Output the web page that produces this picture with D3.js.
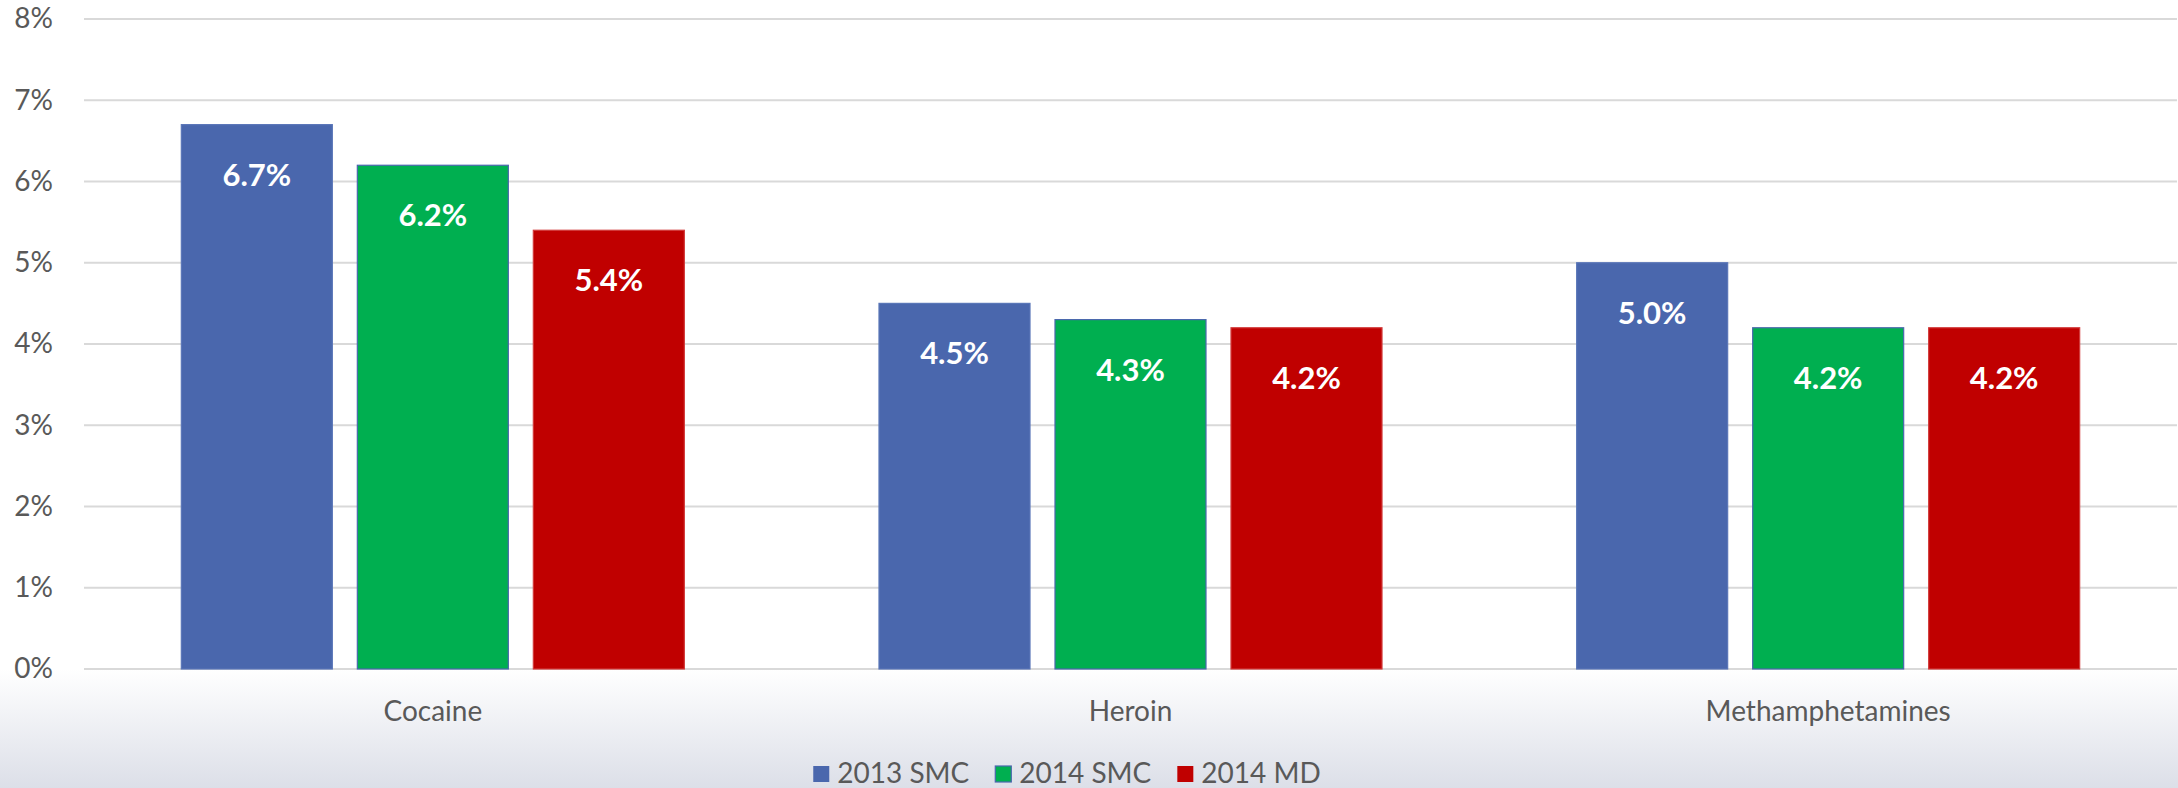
<!DOCTYPE html>
<html>
<head>
<meta charset="utf-8">
<script src="https://cdn.jsdelivr.net/npm/d3@7"></script>
<style>
  html, body { margin: 0; padding: 0; background: #fff; }
  svg { display: block; font-family: Lato, "Open Sans", sans-serif; }
</style>
</head>
<body>
<div id="chart"></div>
<script>
const categories = ["Cocaine", "Heroin", "Methamphetamines"];
const seriesNames = ["2013 SMC", "2014 SMC", "2014 MD"];
const smc2013 = [6.7, 4.5, 5.0];
const smc2014 = [6.2, 4.3, 4.2];
const md2014 = [5.4, 4.2, 4.2];
const yTicks = [0, 1, 2, 3, 4, 5, 6, 7, 8];

const colors = { "2013 SMC": "#4a67ad", "2014 SMC": "#00af50", "2014 MD": "#c00000" };
const strokes = { "2013 SMC": "#5a76b8", "2014 SMC": "#4a67ad", "2014 MD": "#d23a3a" };

const w = 2178;
const h = 788;
const plotLeft = 84;
const plotRight = 2177;
const plotTop = 19;
const plotBottom = 669;

const series = [
  { name: seriesNames[0], values: smc2013 },
  { name: seriesNames[1], values: smc2014 },
  { name: seriesNames[2], values: md2014 },
];

const svg = d3
  .select("#chart")
  .append("svg")
  .attr("width", w)
  .attr("height", h);

// soft grey fade at the bottom
const defs = svg.append("defs");
const grad = defs
  .append("linearGradient")
  .attr("id", "bg")
  .attr("x1", 0).attr("y1", 0).attr("x2", 0).attr("y2", 1);
grad.append("stop").attr("offset", "0%").attr("stop-color", "#ffffff");
grad.append("stop").attr("offset", "100%").attr("stop-color", "#dcdfe8");
svg
  .append("rect")
  .attr("x", 0)
  .attr("y", plotBottom)
  .attr("width", w)
  .attr("height", h - plotBottom)
  .attr("fill", "url(#bg)");

const yScale = d3.scaleLinear().domain([0, 8]).range([plotBottom, plotTop]);
const xScale = d3
  .scaleBand()
  .domain(categories)
  .range([plotLeft, plotRight])
  .paddingInner(0.279)
  .paddingOuter(0.1395);
const xInner = d3
  .scaleBand()
  .domain(seriesNames)
  .range([0, xScale.bandwidth()])
  .paddingInner(0.142)
  .paddingOuter(0);

// gridlines
svg
  .append("g")
  .selectAll("line")
  .data(yTicks)
  .enter()
  .append("line")
  .attr("x1", plotLeft)
  .attr("x2", plotRight)
  .attr("y1", (d) => yScale(d))
  .attr("y2", (d) => yScale(d))
  .attr("stroke", "#d9d9d9")
  .attr("stroke-width", 2);

// y axis labels
const yAxis = d3
  .axisLeft(yScale)
  .tickValues(yTicks)
  .tickFormat((d) => d + "%")
  .tickSize(0)
  .tickPadding(0);
const yG = svg
  .append("g")
  .attr("id", "y-axis")
  .attr("transform", "translate(53,0)")
  .call(yAxis);
yG.select(".domain").remove();
yG.selectAll("text")
  .attr("font-size", 28)
  .attr("font-family", "Lato, sans-serif")
  .attr("fill", "#595959");

// bars
const groups = svg
  .append("g")
  .selectAll("g")
  .data(series)
  .enter()
  .append("g");

groups
  .selectAll("rect")
  .data((s) => s.values.map((v, i) => ({ name: s.name, cat: categories[i], v: v })))
  .enter()
  .append("rect")
  .attr("x", (d) => xScale(d.cat) + xInner(d.name))
  .attr("y", (d) => yScale(d.v))
  .attr("width", xInner.bandwidth())
  .attr("height", (d) => plotBottom - yScale(d.v))
  .attr("fill", (d) => colors[d.name])
  .attr("stroke", (d) => strokes[d.name])
  .attr("stroke-width", 1.2);

groups
  .selectAll("text")
  .data((s) => s.values.map((v, i) => ({ name: s.name, cat: categories[i], v: v })))
  .enter()
  .append("text")
  .attr("x", (d) => xScale(d.cat) + xInner(d.name) + xInner.bandwidth() / 2)
  .attr("y", (d) => yScale(d.v) + 61)
  .attr("text-anchor", "middle")
  .attr("font-size", 31)
  .attr("font-weight", "bold")
  .attr("fill", "#ffffff")
  .text((d) => d.v.toFixed(1) + "%");

// x axis labels
const xAxis = d3.axisBottom(xScale).tickSize(0).tickPadding(0);
const xG = svg
  .append("g")
  .attr("id", "x-axis")
  .attr("transform", `translate(0,${plotBottom})`)
  .call(xAxis);
xG.select(".domain").remove();
xG.selectAll("text")
  .attr("dy", null)
  .attr("y", 52)
  .attr("font-size", 28)
  .attr("font-family", "Lato, sans-serif")
  .attr("fill", "#595959");

// legend
const legend = svg.append("g").attr("id", "legend");
const items = legend
  .selectAll("g")
  .data(seriesNames)
  .enter()
  .append("g");
items
  .append("rect")
  .attr("width", 16)
  .attr("height", 16)
  .attr("y", 766)
  .attr("fill", (d) => colors[d])
  .attr("stroke", (d) => (d === "2014 SMC" ? "#4a67ad" : "none"))
  .attr("stroke-width", 1.2);
items
  .append("text")
  .attr("x", 24)
  .attr("y", 783)
  .attr("font-size", 28)
  .attr("fill", "#595959")
  .text((d) => d);

let pos = 0;
const gapItems = 26;
const widths = [];
items.each(function () {
  const tw = d3.select(this).select("text").node().getComputedTextLength();
  widths.push(24 + tw);
});
const total = d3.sum(widths) + gapItems * (widths.length - 1);
const start = 1067 - total / 2;
items.attr("transform", (d, i) => {
  const x = start + pos;
  pos += widths[i] + gapItems;
  return `translate(${x},0)`;
});
</script>
</body>
</html>
